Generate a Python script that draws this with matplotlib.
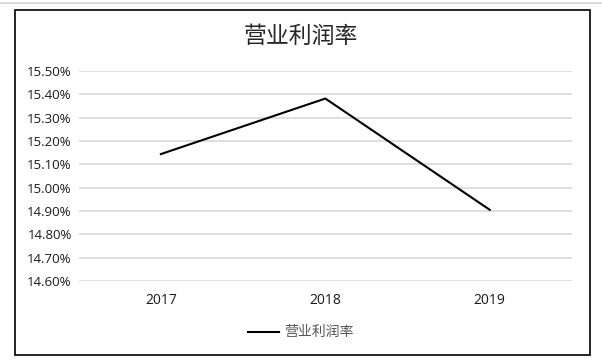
import matplotlib
matplotlib.use("Agg")
import matplotlib.pyplot as plt
from matplotlib.patches import Rectangle
from matplotlib.lines import Line2D
from matplotlib.ticker import FuncFormatter

plt.rcParams['font.family'] = ['Open Sans', 'Noto Sans CJK SC', 'DejaVu Sans']

years = ['2017', '2018', '2019']
margin = [15.144, 15.382, 14.905]
yticks = [14.6, 14.7, 14.8, 14.9, 15.0, 15.1, 15.2, 15.3, 15.4, 15.5]
title = '营业利润率'

fig = plt.figure(figsize=(6.02, 3.60), dpi=100)
fig.patch.set_facecolor('white')

# outer frame
fig.add_artist(Rectangle((15/602, 1-355/360), (590-15)/602, (355-10)/360,
                         transform=fig.transFigure, fill=False, edgecolor='black', linewidth=1.2))
fig.add_artist(Line2D([0, 1], [1-3/360, 1-3/360], transform=fig.transFigure,
                      color='#d9d9d9', linewidth=1.5))

ax = fig.add_axes([78.7/602, 1-281/360, (572-78.7)/602, (281-71)/360])
x = list(range(len(years)))
ax.plot(x, margin, color='black', linewidth=1.5)
ax.set_xlim(-0.5, len(years)-0.5)
ax.set_ylim(14.6, 15.5)
ax.set_yticks(yticks)
ax.yaxis.set_major_formatter(FuncFormatter(lambda v, p: f'{v:.2f}%'))
ax.set_xticks(x)
ax.set_xticklabels(years)
ax.grid(axis='y', color='#d9d9d9', linewidth=1.2)
ax.set_axisbelow(True)
for s in ax.spines.values():
    s.set_visible(False)
ax.tick_params(axis='y', length=0, labelsize=9.5, colors='#1a1a1a', pad=5)
ax.tick_params(axis='x', length=0, labelsize=10, colors='#1a1a1a', pad=9)

fig.text(0.5, 1-36/360, title, ha='center', va='center', fontsize=16.5,
         family=['Noto Sans CJK SC', 'DejaVu Sans'], color='#262626')

fig.add_artist(Line2D([248/602, 279/602], [1-332/360, 1-332/360], transform=fig.transFigure,
                      color='black', linewidth=1.5))
fig.text(284/602, 1-332/360, title, ha='left', va='center', fontsize=10,
         family=['Noto Sans CJK SC', 'DejaVu Sans'], color='#555555')

fig.savefig('out.png', dpi=100)
